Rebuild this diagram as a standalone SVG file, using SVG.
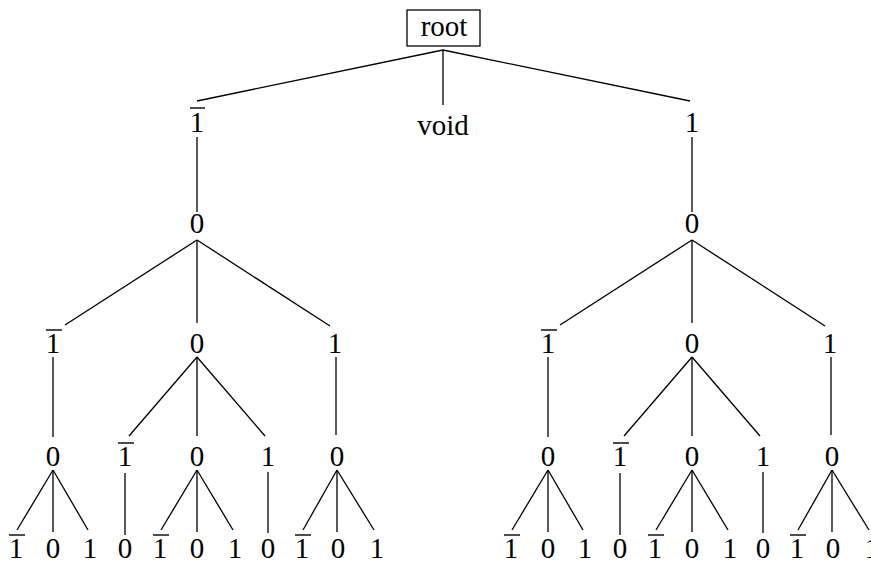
<svg xmlns="http://www.w3.org/2000/svg" width="871" height="562" viewBox="0 0 871 562">
<style>
.e{stroke:#000;stroke-width:1.3;fill:none}
.bar{stroke:#000;stroke-width:1.4}
.box{fill:#fff;stroke:#000;stroke-width:1.3}
</style>
<rect width="871" height="562" fill="#fff"/>
<g id="connectors" class="e">
<line x1="443" y1="50" x2="197" y2="101"/>
<line x1="443" y1="50" x2="443" y2="105"/>
<line x1="443" y1="50" x2="690" y2="101"/>
<line x1="197" y1="137" x2="197" y2="212"/>
<line x1="197" y1="240" x2="65" y2="325"/>
<line x1="197" y1="240" x2="197" y2="323"/>
<line x1="197" y1="240" x2="330" y2="326"/>
<line x1="53" y1="357" x2="53" y2="437"/>
<line x1="197" y1="357" x2="129" y2="436"/>
<line x1="197" y1="357" x2="197" y2="436"/>
<line x1="197" y1="357" x2="265" y2="436"/>
<line x1="336" y1="357" x2="336" y2="435"/>
<line x1="53" y1="470" x2="17" y2="530"/>
<line x1="53" y1="470" x2="53" y2="532"/>
<line x1="53" y1="470" x2="88" y2="530"/>
<line x1="125" y1="473" x2="125" y2="535"/>
<line x1="197" y1="470" x2="161" y2="530"/>
<line x1="197" y1="470" x2="197" y2="532"/>
<line x1="197" y1="470" x2="233" y2="530"/>
<line x1="268" y1="472" x2="268" y2="533"/>
<line x1="337" y1="470" x2="303" y2="530"/>
<line x1="337" y1="470" x2="337" y2="532"/>
<line x1="337" y1="470" x2="374" y2="530"/>
<line x1="692" y1="137" x2="692" y2="212"/>
<line x1="692" y1="240" x2="560" y2="325"/>
<line x1="692" y1="240" x2="692" y2="323"/>
<line x1="692" y1="240" x2="825" y2="326"/>
<line x1="548" y1="357" x2="548" y2="437"/>
<line x1="692" y1="357" x2="624" y2="436"/>
<line x1="692" y1="357" x2="692" y2="436"/>
<line x1="692" y1="357" x2="760" y2="436"/>
<line x1="831" y1="357" x2="831" y2="435"/>
<line x1="548" y1="470" x2="512" y2="530"/>
<line x1="548" y1="470" x2="548" y2="532"/>
<line x1="548" y1="470" x2="583" y2="530"/>
<line x1="620" y1="473" x2="620" y2="535"/>
<line x1="692" y1="470" x2="656" y2="530"/>
<line x1="692" y1="470" x2="692" y2="532"/>
<line x1="692" y1="470" x2="728" y2="530"/>
<line x1="763" y1="472" x2="763" y2="533"/>
<line x1="832" y1="470" x2="798" y2="530"/>
<line x1="832" y1="470" x2="832" y2="532"/>
<line x1="832" y1="470" x2="869" y2="530"/>
</g>
<g id="nodes" font-family="Liberation Serif, Times New Roman, serif" font-size="29" text-anchor="middle" fill="#000">
<g id="root"><rect class="box" x="407" y="10" width="73" height="36"/><text x="444" y="36">root</text></g>
<g id="void"><text x="443" y="135">void</text></g>
<g id="L"><text x="197" y="132">1</text><line class="bar" x1="190" y1="108" x2="205" y2="108"/></g>
<g id="L0"><text x="197" y="233">0</text></g>
<g id="L0m"><text x="53" y="353">1</text><line class="bar" x1="46" y1="330" x2="62" y2="330"/></g>
<g id="L00"><text x="197" y="353">0</text></g>
<g id="L0p"><text x="335" y="353">1</text></g>
<g id="L0m0"><text x="53" y="466">0</text></g>
<g id="L00m"><text x="125" y="466">1</text><line class="bar" x1="118" y1="443" x2="134" y2="443"/></g>
<g id="L000"><text x="197" y="466">0</text></g>
<g id="L00p"><text x="268" y="466">1</text></g>
<g id="L0p0"><text x="337" y="466">0</text></g>
<g id="L0m0m"><text x="16" y="558">1</text><line class="bar" x1="9" y1="535" x2="25" y2="535"/></g>
<g id="L0m00"><text x="53" y="558">0</text></g>
<g id="L0m0p"><text x="90" y="558">1</text></g>
<g id="L00m0"><text x="125" y="558">0</text></g>
<g id="L000m"><text x="160" y="558">1</text><line class="bar" x1="153" y1="535" x2="169" y2="535"/></g>
<g id="L0000"><text x="197" y="558">0</text></g>
<g id="L000p"><text x="235" y="558">1</text></g>
<g id="L00p0"><text x="268" y="558">0</text></g>
<g id="L0p0m"><text x="302" y="558">1</text><line class="bar" x1="295" y1="535" x2="311" y2="535"/></g>
<g id="L0p00"><text x="338" y="558">0</text></g>
<g id="L0p0p"><text x="377" y="558">1</text></g>
<g id="R"><text x="692" y="132">1</text></g>
<g id="R0"><text x="692" y="233">0</text></g>
<g id="R0m"><text x="548" y="353">1</text><line class="bar" x1="541" y1="330" x2="557" y2="330"/></g>
<g id="R00"><text x="692" y="353">0</text></g>
<g id="R0p"><text x="830" y="353">1</text></g>
<g id="R0m0"><text x="548" y="466">0</text></g>
<g id="R00m"><text x="620" y="466">1</text><line class="bar" x1="613" y1="443" x2="629" y2="443"/></g>
<g id="R000"><text x="692" y="466">0</text></g>
<g id="R00p"><text x="763" y="466">1</text></g>
<g id="R0p0"><text x="832" y="466">0</text></g>
<g id="R0m0m"><text x="511" y="558">1</text><line class="bar" x1="504" y1="535" x2="520" y2="535"/></g>
<g id="R0m00"><text x="548" y="558">0</text></g>
<g id="R0m0p"><text x="585" y="558">1</text></g>
<g id="R00m0"><text x="620" y="558">0</text></g>
<g id="R000m"><text x="655" y="558">1</text><line class="bar" x1="648" y1="535" x2="664" y2="535"/></g>
<g id="R0000"><text x="692" y="558">0</text></g>
<g id="R000p"><text x="730" y="558">1</text></g>
<g id="R00p0"><text x="763" y="558">0</text></g>
<g id="R0p0m"><text x="797" y="558">1</text><line class="bar" x1="790" y1="535" x2="806" y2="535"/></g>
<g id="R0p00"><text x="833" y="558">0</text></g>
<g id="R0p0p"><text x="872" y="558">1</text></g>
</g>
</svg>
